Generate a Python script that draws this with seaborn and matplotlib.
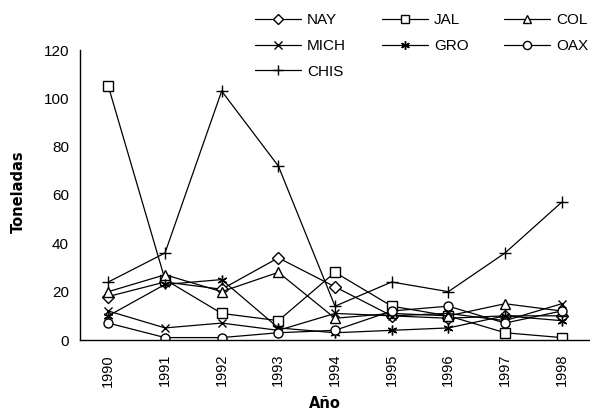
import numpy as np
import pandas as pd
import matplotlib
matplotlib.use("Agg")
import matplotlib.pyplot as plt
from matplotlib.ticker import FixedLocator, NullFormatter
import seaborn as sns

years = ["1990", "1991", "1992", "1993", "1994", "1995", "1996", "1997", "1998"]
NAY = [18, 24, 21, 34, 22, 10, 9, 10, 10]
JAL = [105, 25, 11, 8, 28, 14, 10, 3, 1]
COL = [20, 27, 20, 28, 9, 11, 10, 15, 12]
MICH = [12, 5, 7, 4, 11, 10, 11, 8, 15]
GRO = [10, 23, 25, 5, 3, 4, 5, 10, 8]
OAX = [7, 1, 1, 3, 4, 12, 14, 7, 12]
CHIS = [24, 36, 103, 72, 14, 24, 20, 36, 57]

series_names = ["NAY", "JAL", "COL", "MICH", "GRO", "OAX", "CHIS"]
series_vals = [NAY, JAL, COL, MICH, GRO, OAX, CHIS]
markers = {"NAY": "D", "JAL": "s", "COL": "^", "MICH": "x",
           "GRO": (6, 2, 0), "OAX": "o", "CHIS": "+"}
msize = {"NAY": 6, "JAL": 6.5, "COL": 6.5, "MICH": 6, "GRO": 7, "OAX": 6.5, "CHIS": 8}

df = pd.DataFrame([
    {"Año": y, "Toneladas": v, "Estado": name}
    for name, vals in zip(series_names, series_vals)
    for y, v in zip(years, vals)
])

sns.set_theme(style="white")
plt.rcParams["font.family"] = ["Liberation Sans", "DejaVu Sans"]
plt.rcParams["text.color"] = "black"
plt.rcParams["axes.labelcolor"] = "black"
plt.rcParams["xtick.color"] = "black"
plt.rcParams["ytick.color"] = "black"

fig = plt.figure(figsize=(5.9, 4.17), dpi=100)
ax = fig.add_axes([80 / 590, 1 - 340 / 417, 1 - 80 / 590, (340 - 50) / 417])

handles = {}
for name in series_names:
    sub = df[df["Estado"] == name]
    sns.lineplot(data=sub, x="Año", y="Toneladas", ax=ax, color="black",
                 linewidth=0.9, marker=markers[name], markersize=msize[name],
                 markerfacecolor="white", markeredgecolor="black",
                 markeredgewidth=1.0, legend=False, sort=False)
    handles[name] = ax.lines[-1]

ax.set_xlim(-0.5, 8.5)
ax.set_ylim(0, 120)
ax.set_yticks(np.arange(0, 121, 20))
ax.set_xticks(range(len(years)))
ax.set_xticklabels(years, rotation=90, fontsize=10.5)
ax.xaxis.set_minor_locator(FixedLocator(np.arange(-0.5, 8.6, 1.0)))
ax.xaxis.set_minor_formatter(NullFormatter())
ax.tick_params(axis="x", which="major", length=0, pad=10)
ax.tick_params(axis="x", which="minor", length=5, width=1, color="black", direction="out")
ax.tick_params(axis="y", length=5, width=1, color="black", direction="out", labelsize=11, pad=3)
ax.tick_params(colors="black", labelcolor="black")

for side in ["top", "right"]:
    ax.spines[side].set_visible(False)
for side in ["left", "bottom"]:
    ax.spines[side].set_color("black")
    ax.spines[side].set_linewidth(1.0)

ax.set_xlabel("Año", fontsize=10.5, fontweight="bold", color="black", family="DejaVu Sans")
ax.set_ylabel("Toneladas", fontsize=10.5, fontweight="bold", color="black", family="DejaVu Sans")
ax.xaxis.set_label_coords((325 - 80) / 510, -(396 - 340) / 290)
ax.yaxis.set_label_coords(-(80 - 26) / 510, (340 - 192) / 290)

# legend filled column-wise so it reads row-wise like the reference
leg_order = ["NAY", "MICH", "CHIS", "JAL", "GRO", "COL", "OAX"]
fig.legend([handles[n] for n in leg_order], leg_order, ncol=3, loc="upper left",
           bbox_to_anchor=(255 / 590, 1 - 13 / 417), frameon=False,
           fontsize=11, handlelength=3.0, handletextpad=0.4,
           columnspacing=2.35, labelspacing=0.78, borderaxespad=0, borderpad=0,
           markerscale=0.9, labelcolor="black")

fig.savefig("out.png", dpi=100, facecolor="white")
